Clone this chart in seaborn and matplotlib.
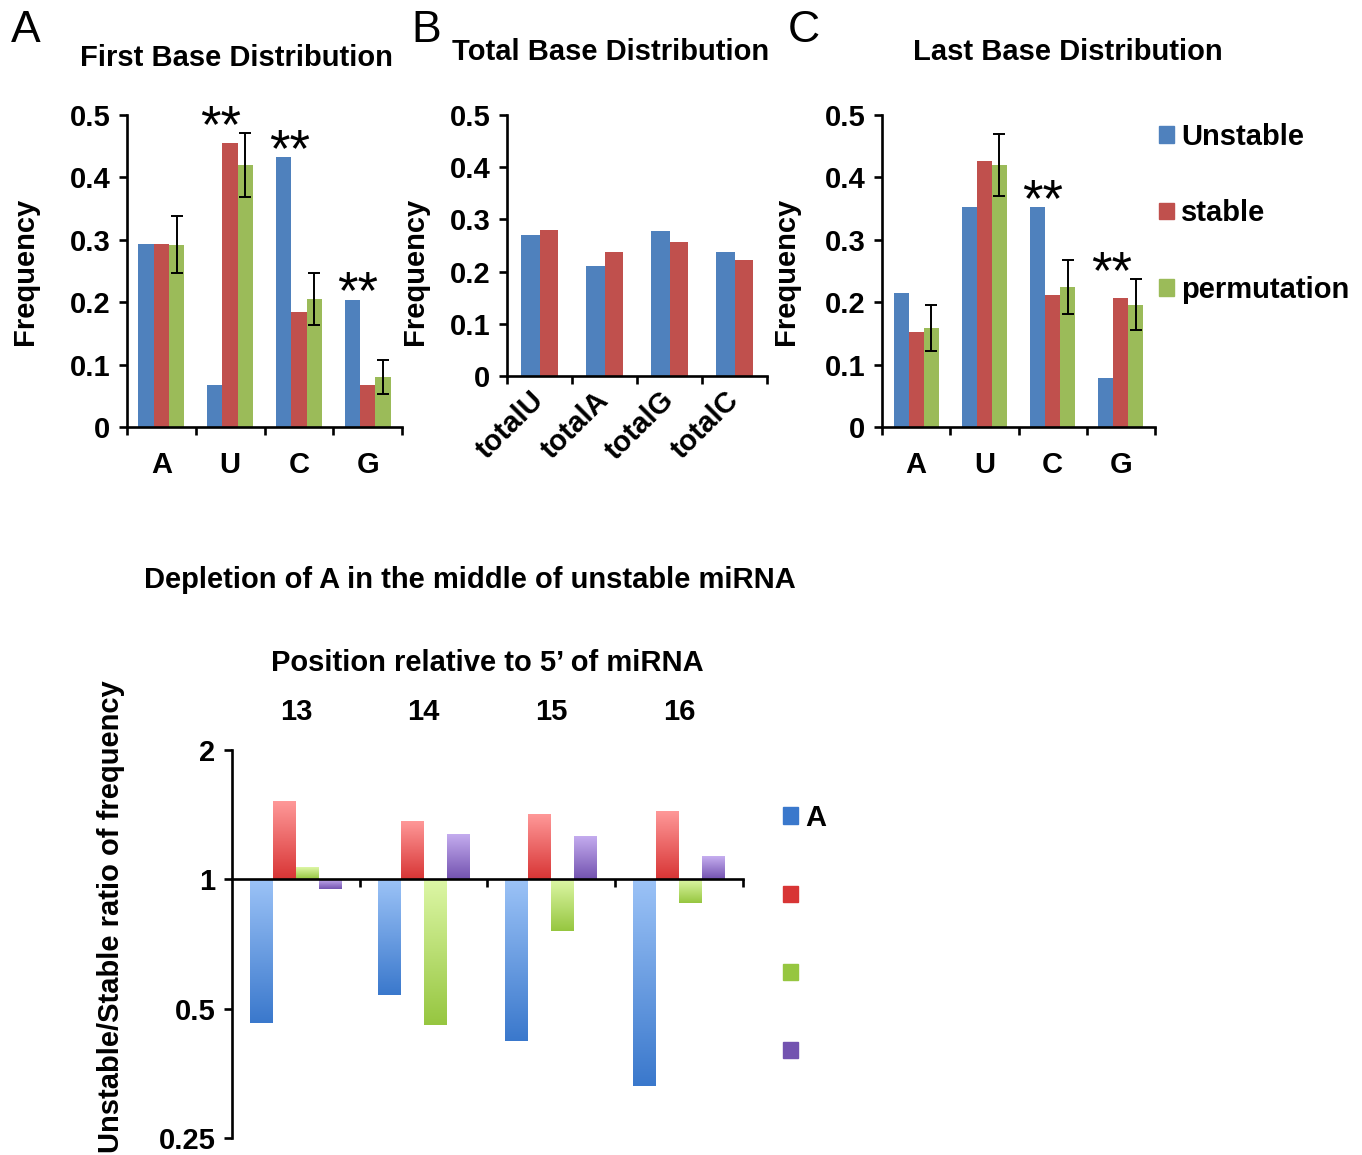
import numpy as np
import pandas as pd
import matplotlib
matplotlib.use('Agg')
import matplotlib.pyplot as plt
import seaborn as sns
from matplotlib.colors import LinearSegmentedColormap
from matplotlib.patches import Patch
from matplotlib.ticker import FixedLocator, FuncFormatter

# ---- data ----
bases = ['A', 'U', 'C', 'G']
groups = ['Unstable', 'stable', 'permutation']

first_unstable = [0.294, 0.067, 0.432, 0.204]
first_stable = [0.294, 0.455, 0.184, 0.068]
first_perm = [0.292, 0.420, 0.205, 0.080]
first_perm_err = [0.046, 0.051, 0.041, 0.027]
first_stars = ['U', 'C', 'G']

total_bases = ['totalU', 'totalA', 'totalG', 'totalC']
total_unstable = [0.271, 0.210, 0.277, 0.238]
total_stable = [0.280, 0.238, 0.256, 0.223]

last_unstable = [0.215, 0.352, 0.352, 0.079]
last_stable = [0.152, 0.426, 0.211, 0.207]
last_perm = [0.158, 0.420, 0.224, 0.196]
last_perm_err = [0.037, 0.050, 0.043, 0.041]
last_stars = ['C', 'G']

positions = ['13', '14', '15', '16']
ratio_names = ['A', '', '', '']
ratio_A = [0.463, 0.538, 0.420, 0.330]
ratio_red = [1.521, 1.366, 1.418, 1.443]
ratio_green = [1.066, 0.459, 0.758, 0.881]
ratio_purple = [0.948, 1.276, 1.260, 1.131]

blue, red, green, purple = '#4F81BD', '#C0504D', '#9BBB59', '#8064A2'
# (light top, dark bottom) for the shaded bars of the lower panel
grad = [('#9CC3F7', '#3A78CC'), ('#FF9A9A', '#D83535'),
        ('#DDF7A6', '#96C640'), ('#C6AEF0', '#7353B0')]

sns.set_style('ticks')
plt.rcParams['font.family'] = ['Liberation Sans', 'DejaVu Sans']
plt.rcParams['font.weight'] = 'bold'
plt.rcParams['axes.labelweight'] = 'bold'
plt.rcParams['axes.linewidth'] = 1.9
plt.rcParams['axes.edgecolor'] = 'black'
plt.rcParams['text.color'] = 'black'
plt.rcParams['axes.labelcolor'] = 'black'
plt.rcParams['xtick.color'] = 'black'
plt.rcParams['ytick.color'] = 'black'

FS = 21
fig = plt.figure(figsize=(13.62, 11.55), dpi=100)
W, H = 1362, 1155


def px_axes(left, top, right, bottom):
    return fig.add_axes([left / W, 1 - bottom / H, (right - left) / W, (bottom - top) / H])


def long_form(cats, names, cols):
    rows = []
    for name, vals in zip(names, cols):
        for c, v in zip(cats, vals):
            rows.append({'cat': c, 'series': name, 'value': v})
    return pd.DataFrame(rows)


def freq_axes(ax, xpad=17):
    ax.set_xlim(-0.5, 3.5)
    ax.set_ylim(0, 0.5)
    ax.set_yticks(np.arange(0, 0.51, 0.1))
    ax.yaxis.set_major_formatter(FuncFormatter(lambda v, _: f'{v:g}'))
    ax.xaxis.set_minor_locator(FixedLocator([-0.5, 0.5, 1.5, 2.5, 3.5]))
    ax.tick_params(axis='y', labelsize=FS, length=6, width=1.9, pad=6)
    ax.tick_params(axis='x', which='major', labelsize=FS, length=0, pad=xpad)
    ax.tick_params(axis='x', which='minor', length=6, width=1.9)
    ax.set_xlabel('')
    ax.set_ylabel('Frequency', fontsize=FS)
    sns.despine(ax=ax)


def stars(ax, cats, tops, which):
    for b in which:
        i = cats.index(b)
        ax.text(i - 0.14, tops[i] - 0.014, '**', fontsize=38, fontweight='normal',
                ha='center', va='baseline', clip_on=False)


# ---- A: first base ----
axA = px_axes(127, 115, 402, 427)
dfA = long_form(bases, groups, [first_unstable, first_stable, first_perm])
sns.barplot(data=dfA, x='cat', y='value', hue='series', palette=[blue, red, green],
            width=0.67, saturation=1, errorbar=None, linewidth=0, legend=False, ax=axA)
cx = [p.get_x() + p.get_width() / 2 for p in axA.containers[2]]
axA.errorbar(cx, first_perm, yerr=first_perm_err, fmt='none', ecolor='black',
             elinewidth=1.4, capsize=4.5, capthick=1.4)
freq_axes(axA)
axA.yaxis.set_label_coords(-0.32, 0.5)
topsA = [max(u, s, p + e) for u, s, p, e in zip(first_unstable, first_stable, first_perm, first_perm_err)]
stars(axA, bases, topsA, first_stars)

# ---- B: total base ----
axB = px_axes(507, 115, 767, 376)
dfB = long_form(total_bases, groups[:2], [total_unstable, total_stable])
sns.barplot(data=dfB, x='cat', y='value', hue='series', palette=[blue, red],
            width=0.58, saturation=1, errorbar=None, linewidth=0, legend=False, ax=axB)
freq_axes(axB, xpad=14)
plt.setp(axB.get_xticklabels(), rotation=45, ha='right', va='center', rotation_mode='anchor')
axB.yaxis.set_label_coords(-0.30, 0.40)

# ---- C: last base ----
axC = px_axes(882, 115, 1155, 427)
dfC = long_form(bases, groups, [last_unstable, last_stable, last_perm])
sns.barplot(data=dfC, x='cat', y='value', hue='series', palette=[blue, red, green],
            width=0.66, saturation=1, errorbar=None, linewidth=0, legend=False, ax=axC)
cx = [p.get_x() + p.get_width() / 2 for p in axC.containers[2]]
axC.errorbar(cx, last_perm, yerr=last_perm_err, fmt='none', ecolor='black',
             elinewidth=1.4, capsize=4.5, capthick=1.4)
freq_axes(axC)
axC.yaxis.set_label_coords(-0.30, 0.5)
topsC = [max(u, s, p + e) for u, s, p, e in zip(last_unstable, last_stable, last_perm, last_perm_err)]
stars(axC, bases, topsC, last_stars)

axC.legend(handles=[Patch(color=c, label=g) for c, g in zip([blue, red, green], groups)],
           loc='upper left', bbox_to_anchor=(1159 / W, 1 - 123 / H), bbox_transform=fig.transFigure,
           frameon=False, fontsize=FS, handlelength=0.5, handleheight=0.5,
           handletextpad=0.25, labelspacing=1.66, borderpad=0, borderaxespad=0)

# ---- D: ratio at positions 13-16 (log2 axis) ----
axD = px_axes(232, 750, 743, 1138)
dfD = long_form(positions, ['s1', 's2', 's3', 's4'],
                [np.log2(ratio_A), np.log2(ratio_red), np.log2(ratio_green), np.log2(ratio_purple)])
sns.barplot(data=dfD, x='cat', y='value', hue='series', palette=[blue, red, green, purple],
            width=0.72, saturation=1, errorbar=None, linewidth=0, legend=False, ax=axD)
gy = np.linspace(0, 1, 256).reshape(-1, 1)
for cont, (light, dark) in zip(axD.containers, grad):
    cmap = LinearSegmentedColormap.from_list('g', [dark, light])
    for p in cont:
        x0, y0, w, h = p.get_x(), p.get_y(), p.get_width(), p.get_height()
        im = axD.imshow(gy, cmap=cmap, origin='lower', aspect='auto', zorder=p.get_zorder() + 0.1,
                        extent=[x0, x0 + w, min(y0, y0 + h), max(y0, y0 + h)])
        im.set_clip_path(p)
axD.set_xlim(-0.5, 3.5)
axD.set_ylim(-2, 1)
axD.set_yticks([-2, -1, 0, 1])
axD.yaxis.set_major_formatter(FuncFormatter(lambda v, _: f'{2.0 ** float(v):g}'))
axD.spines['bottom'].set_position(('data', 0))
axD.spines['bottom'].set_zorder(5)
axD.spines['top'].set_visible(False)
axD.spines['right'].set_visible(False)
axD.xaxis.set_minor_locator(FixedLocator([0.5, 1.5, 2.5, 3.5]))
axD.tick_params(axis='x', which='major', bottom=False, top=False, labelbottom=False,
                labeltop=True, labelsize=FS, length=0, pad=17)
axD.tick_params(axis='x', which='minor', bottom=True, top=False, length=6, width=1.9)
axD.tick_params(axis='y', labelsize=FS, length=6, width=1.9, pad=6)
axD.set_xlabel('Position relative to 5’ of miRNA', fontsize=FS, labelpad=20)
axD.xaxis.set_label_position('top')
axD.set_ylabel('Unstable/Stable ratio of frequency', fontsize=FS)
axD.yaxis.set_label_coords(-0.21, 0.57)
axD.legend(handles=[Patch(color=g[1], label=n) for g, n in zip(grad, ratio_names)],
           loc='upper left', bbox_to_anchor=(783 / W, 1 - 804 / H), bbox_transform=fig.transFigure,
           frameon=False, fontsize=FS, handlelength=0.5, handleheight=0.5,
           handletextpad=0.25, labelspacing=1.72, borderpad=0, borderaxespad=0)

# ---- titles and panel letters ----
fig.text(236 / W, 1 - 58 / H, 'First Base Distribution', fontsize=FS, ha='center', va='center')
fig.text(611 / W, 1 - 52 / H, 'Total Base Distribution', fontsize=FS, ha='center', va='center')
fig.text(1068 / W, 1 - 52 / H, 'Last Base Distribution', fontsize=FS, ha='center', va='center')
fig.text(470 / W, 1 - 580 / H, 'Depletion of A in the middle of unstable miRNA', fontsize=FS,
         ha='center', va='center')
for letter, x, y in [('A', 26, 31), ('B', 426, 31), ('C', 804, 30)]:
    fig.text(x / W, 1 - y / H, letter, fontsize=32, fontweight='normal', ha='center', va='center')

fig.savefig('out.png', dpi=100)
